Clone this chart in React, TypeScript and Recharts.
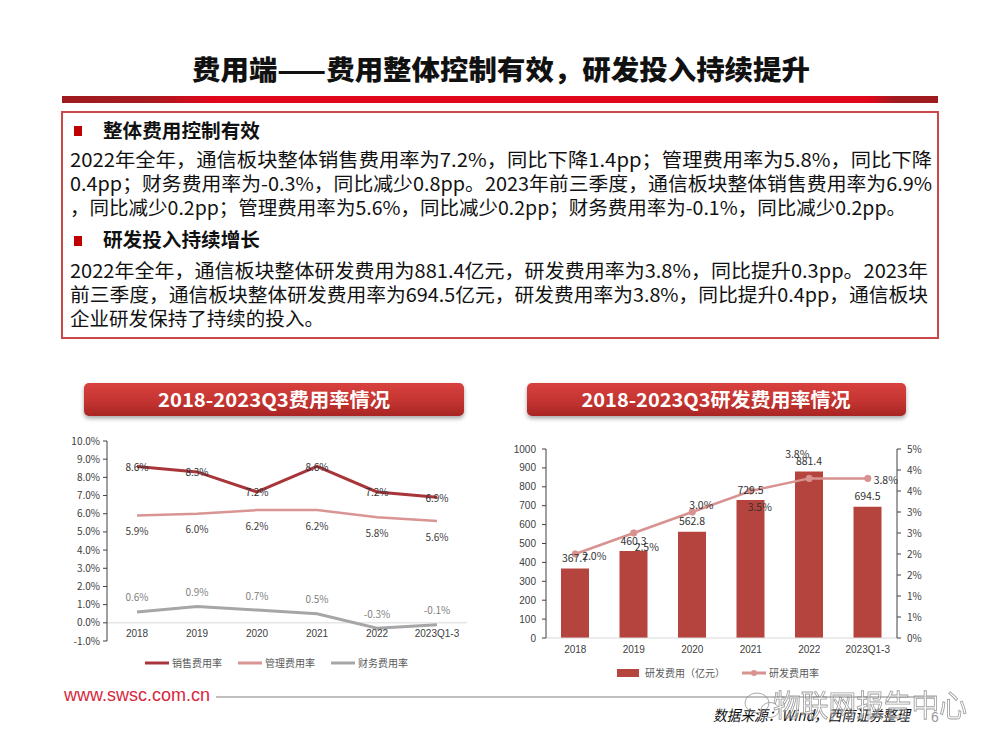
import React from 'react';
import { ComposedChart, Line, Bar, XAxis, YAxis, ReferenceLine, LabelList, Legend } from 'recharts';

// ---------- data ----------
const categories = ['2018', '2019', '2020', '2021', '2022', '2023Q1-3'];
const sellingRate = [8.6, 8.3, 7.2, 8.6, 7.2, 6.9];
const adminRate = [5.9, 6.0, 6.2, 6.2, 5.8, 5.6];
const financeRate = [0.6, 0.9, 0.7, 0.5, -0.3, -0.1];
const costSeriesNames = ['销售费用率', '管理费用率', '财务费用率'];
const costTicks = [-1, 0, 1, 2, 3, 4, 5, 6, 7, 8, 9, 10];

const rdExpense = [367.7, 460.3, 562.8, 729.5, 881.4, 694.5];
const rdRate = [2.0, 2.5, 3.0, 3.5, 3.8, 3.8];
const rdSeriesNames = ['研发费用（亿元）', '研发费用率'];
const rdTicks = [0, 100, 200, 300, 400, 500, 600, 700, 800, 900, 1000];
const rdRateTicks = [0, 0.5, 1, 1.5, 2, 2.5, 3, 3.5, 4, 4.5];

const titleText = '费用端——费用整体控制有效，研发投入持续提升';
const heading1 = '整体费用控制有效';
const heading2 = '研发投入持续增长';
const para1 = [
  '2022年全年，通信板块整体销售费用率为7.2%，同比下降1.4pp；管理费用率为5.8%，同比下降',
  '0.4pp；财务费用率为-0.3%，同比减少0.8pp。2023年前三季度，通信板块整体销售费用率为6.9%',
  '，同比减少0.2pp；管理费用率为5.6%，同比减少0.2pp；财务费用率为-0.1%，同比减少0.2pp。',
];
const para2 = [
  '2022年全年，通信板块整体研发费用为881.4亿元，研发费用率为3.8%，同比提升0.3pp。2023年',
  '前三季度，通信板块整体研发费用率为694.5亿元，研发费用率为3.8%，同比提升0.4pp，通信板块',
  '企业研发保持了持续的投入。',
];
const chartTitleLeft = '2018-2023Q3费用率情况';
const chartTitleRight = '2018-2023Q3研发费用率情况';

// ---------- styles ----------
const CJK = "'Noto Sans CJK SC', 'Noto Sans', sans-serif";
const LAT = "'Liberation Sans', Arial, sans-serif";
const C_SELL = '#A8353A';
const C_ADMIN = '#D99594';
const C_FIN = '#A6A6A6';
const C_BAR = '#B5443F';
const C_RATE = '#D89290';
const para1Widths = [862, 862, 836];
const para2Widths = [858, 858, 254];
const rateLabelOffsets = [[19, 1], [13, 13], [9, -8], [9, 15], [-12, -25], [18, 1]];

const costData = categories.map((name, i) => ({
  name,
  selling: sellingRate[i],
  admin: adminRate[i],
  finance: financeRate[i],
}));
const rdData = categories.map((name, i) => ({ name, expense: rdExpense[i], rate: rdRate[i] }));

const makeCatTick = (off: number) => (p: any) => (
  <text x={p.x} y={p.y + off} textAnchor="middle" fontSize={10} fill="#404040" fontFamily={LAT}>
    {p.payload.value}
  </text>
);

const pointLabel = (dy: number, color: string) => (p: any) => (
  <text x={p.x} y={p.y + dy} textAnchor="middle" dominantBaseline="central" fontSize={10} fill={color} fontFamily={CJK}>
    {Number(p.value).toFixed(1) + '%'}
  </text>
);

const barLabel = (p: any) => (
  <text x={p.x + p.width / 2} y={p.y - 11} textAnchor="middle" dominantBaseline="central" fontSize={10.5} fill="#333" fontFamily={CJK}>
    {Number(p.value).toFixed(1)}
  </text>
);

const rateLabel = (p: any) => {
  const o = rateLabelOffsets[p.index] || [0, -10];
  return (
    <text x={p.x + o[0]} y={p.y + o[1]} textAnchor="middle" dominantBaseline="central" fontSize={10.5} fill="#333" fontFamily={CJK}>
      {Number(p.value).toFixed(1) + '%'}
    </text>
  );
};

const makeLegend = (order: string[]) => (props: any) => {
  const payload = [...(props.payload || [])].sort(
    (a: any, b: any) => order.indexOf(a.value) - order.indexOf(b.value)
  );
  return (
    <div style={{ display: 'flex', alignItems: 'center', fontFamily: CJK, fontSize: 10, color: '#595959', lineHeight: '12px' }}>
      {payload.map((e: any, i: number) => (
        <div key={i} style={{ display: 'flex', alignItems: 'center', marginRight: e.type === 'rect' ? 17 : 16 }}>
          <svg width={e.type === 'rect' ? 22 : 24} height={10} style={{ display: 'block' }}>
            {e.type === 'rect' ? (
              <rect x={0} y={1} width={22} height={8} fill={e.color} />
            ) : (
              <g>
                <line x1={0} y1={5} x2={24} y2={5} stroke={e.color} strokeWidth={3} />
                {e.type === 'circle' ? <circle cx={12} cy={5} r={3} fill={e.color} /> : null}
              </g>
            )}
          </svg>
          <span style={{ marginLeft: e.type === 'rect' ? 6 : 3, whiteSpace: 'nowrap' }}>{e.value}</span>
        </div>
      ))}
    </div>
  );
};

const CostLegend = makeLegend(costSeriesNames);
const RdLegend = makeLegend(rdSeriesNames);

const CostChart = () => (
  <ComposedChart width={440} height={245} data={costData} margin={{ top: 11, right: 33, bottom: 0, left: 7 }}>
    <XAxis dataKey="name" scale="band" height={34} axisLine={false} tickLine={false} tickSize={0} tickMargin={0} interval={0} tick={makeCatTick(-4)} />
    <YAxis
      width={40}
      domain={[-1, 10]}
      ticks={costTicks}
      interval={0}
      tickFormatter={(v: number) => v.toFixed(1) + '%'}
      axisLine={{ stroke: '#404040' }}
      tickLine={{ stroke: '#404040' }}
      tickSize={4}
      tickMargin={3}
      tick={{ fontSize: 10, fill: '#404040', fontFamily: CJK }}
    />
    <ReferenceLine y={0} stroke="#D9D9D9" strokeWidth={1} />
    <Line dataKey="selling" name={costSeriesNames[0]} stroke={C_SELL} strokeWidth={3} dot={false} isAnimationActive={false} legendType="line">
      <LabelList dataKey="selling" content={pointLabel(0, '#333')} />
    </Line>
    <Line dataKey="admin" name={costSeriesNames[1]} stroke={C_ADMIN} strokeWidth={2.5} dot={false} isAnimationActive={false} legendType="line">
      <LabelList dataKey="admin" content={pointLabel(15, '#404040')} />
    </Line>
    <Line dataKey="finance" name={costSeriesNames[2]} stroke={C_FIN} strokeWidth={3} dot={false} isAnimationActive={false} legendType="line">
      <LabelList dataKey="finance" content={pointLabel(-15, '#7F7F7F')} />
    </Line>
    <Legend layout="horizontal" verticalAlign="middle" align="center" content={<CostLegend />} wrapperStyle={{ left: 85, top: 227, width: 330, height: 12 }} />
  </ComposedChart>
);

const RdChart = () => (
  <ComposedChart width={440} height={250} data={rdData} margin={{ top: 19, right: 7, bottom: 0, left: 6 }}>
    <XAxis dataKey="name" height={42} axisLine={{ stroke: '#D9D9D9' }} tickLine={false} tickSize={0} tickMargin={0} interval={0} tick={makeCatTick(15)} />
    <YAxis
      yAxisId="l"
      width={40}
      domain={[0, 1000]}
      ticks={rdTicks}
      interval={0}
      axisLine={{ stroke: '#404040' }}
      tickLine={{ stroke: '#404040' }}
      tickSize={4}
      tickMargin={6}
      tick={{ fontSize: 10, fill: '#404040', fontFamily: LAT }}
    />
    <YAxis
      yAxisId="r"
      orientation="right"
      width={36}
      domain={[0, 4.5]}
      ticks={rdRateTicks}
      interval={0}
      tickFormatter={(v: number) => Math.round(v) + '%'}
      axisLine={{ stroke: '#404040' }}
      tickLine={{ stroke: '#404040' }}
      tickSize={4}
      tickMargin={6}
      tick={{ fontSize: 10, fill: '#404040', fontFamily: CJK }}
    />
    <Bar yAxisId="l" dataKey="expense" name={rdSeriesNames[0]} fill={C_BAR} barSize={28} isAnimationActive={false} legendType="rect">
      <LabelList dataKey="expense" content={barLabel} />
    </Bar>
    <Line
      yAxisId="r"
      dataKey="rate"
      name={rdSeriesNames[1]}
      stroke={C_RATE}
      strokeWidth={2.5}
      dot={{ r: 3.2, fill: C_RATE, stroke: C_RATE, strokeWidth: 1 }}
      isAnimationActive={false}
      legendType="circle"
    >
      <LabelList dataKey="rate" content={rateLabel} />
    </Line>
    <Legend layout="horizontal" verticalAlign="middle" align="center" content={<RdLegend />} wrapperStyle={{ left: 117, top: 237, width: 320, height: 12 }} />
  </ComposedChart>
);

const Page = () => (
  <svg width={1000} height={750} style={{ position: 'absolute', left: 0, top: 0 }}>
    <defs>
      <linearGradient id="redbar" x1="0" y1="0" x2="1" y2="0">
        <stop offset="0" stopColor="#9E1A1E" />
        <stop offset="0.1" stopColor="#A71A1F" />
        <stop offset="0.17" stopColor="#E0061B" />
        <stop offset="0.92" stopColor="#E0061B" />
        <stop offset="0.95" stopColor="#A31A1E" />
        <stop offset="1" stopColor="#9E1A1E" />
      </linearGradient>
      <linearGradient id="banner" x1="0" y1="0" x2="0" y2="1">
        <stop offset="0" stopColor="#D8413E" />
        <stop offset="0.55" stopColor="#C43431" />
        <stop offset="1" stopColor="#A82624" />
      </linearGradient>
      <filter id="shadow" x="-5%" y="-20%" width="110%" height="160%">
        <feDropShadow dx="0" dy="2.5" stdDeviation="2" floodColor="#000" floodOpacity="0.35" />
      </filter>
    </defs>

    <text x={501} y={80} textAnchor="middle" fontSize={27} fontWeight={900} fontFamily={CJK} fill="#111" textLength={618} lengthAdjust="spacingAndGlyphs">
      {titleText}
    </text>
    <rect x={62} y={96} width={876} height={7} fill="url(#redbar)" />

    <rect x={62} y={112} width={876} height={226} fill="#fff" stroke="#C9484A" strokeWidth={2} />
    <rect x={74} y={126} width={8} height={10} fill="#C00000" />
    <text x={103} y={138} fontSize={19} fontWeight={700} fontFamily={CJK} fill="#111" textLength={157} lengthAdjust="spacingAndGlyphs">
      {heading1}
    </text>
    {para1.map((t, i) => (
      <text key={'p1' + i} x={70} y={167 + i * 24} fontSize={19} fontFamily={CJK} fill="#111" textLength={para1Widths[i]} lengthAdjust="spacingAndGlyphs">
        {t}
      </text>
    ))}
    <rect x={74} y={236} width={8} height={10} fill="#C00000" />
    <text x={103} y={247} fontSize={19} fontWeight={700} fontFamily={CJK} fill="#111" textLength={157} lengthAdjust="spacingAndGlyphs">
      {heading2}
    </text>
    {para2.map((t, i) => (
      <text key={'p2' + i} x={70} y={278 + i * 24} fontSize={19} fontFamily={CJK} fill="#111" textLength={para2Widths[i]} lengthAdjust="spacingAndGlyphs">
        {t}
      </text>
    ))}

    <rect x={84} y={383} width={380} height={33} rx={5} fill="url(#banner)" filter="url(#shadow)" />
    <text x={274} y={407} textAnchor="middle" fontSize={19} fontWeight={700} fontFamily={CJK} fill="#fff" textLength={232} lengthAdjust="spacingAndGlyphs">
      {chartTitleLeft}
    </text>
    <rect x={527} y={383} width={379} height={33} rx={5} fill="url(#banner)" filter="url(#shadow)" />
    <text x={716} y={407} textAnchor="middle" fontSize={19} fontWeight={700} fontFamily={CJK} fill="#fff" textLength={269} lengthAdjust="spacingAndGlyphs">
      {chartTitleRight}
    </text>

    <text x={64} y={701} fontSize={19} fontFamily={LAT} fill="#D7263D" textLength={146} lengthAdjust="spacingAndGlyphs">
      www.swsc.com.cn
    </text>
    <line x1={216} y1={697} x2={935} y2={697} stroke="#BFBFBF" strokeWidth={2} />
    <text x={713} y={721} fontSize={15} fontStyle="italic" fontFamily={CJK} fill="#111" textLength={197} lengthAdjust="spacingAndGlyphs">
      数据来源：Wind，西南证券整理
    </text>
    <text x={931} y={722} fontSize={14} fontFamily={LAT} fill="#999">6</text>
    <g opacity={0.75}>
      <ellipse cx={757} cy={703} rx={12} ry={10} fill="none" stroke="#8C8C8C" strokeWidth={1} />
      <ellipse cx={770} cy={710} rx={9} ry={7.5} fill="none" stroke="#8C8C8C" strokeWidth={1} />
      <text x={773} y={716} fontSize={30} fontFamily={CJK} fill="rgba(255,255,255,0.55)" stroke="#7F7F7F" strokeWidth={0.9} textLength={194} lengthAdjust="spacingAndGlyphs">
        物联网报告中心
      </text>
    </g>
  </svg>
);

export default function App() {
  return (
    <div style={{ position: 'absolute', left: 0, top: 0, width: 1000, height: 750, background: '#fff', overflow: 'hidden' }}>
      <Page />
      <div style={{ position: 'absolute', left: 60, top: 430 }}>
        <CostChart />
      </div>
      <div style={{ position: 'absolute', left: 500, top: 430 }}>
        <RdChart />
      </div>
    </div>
  );
}
